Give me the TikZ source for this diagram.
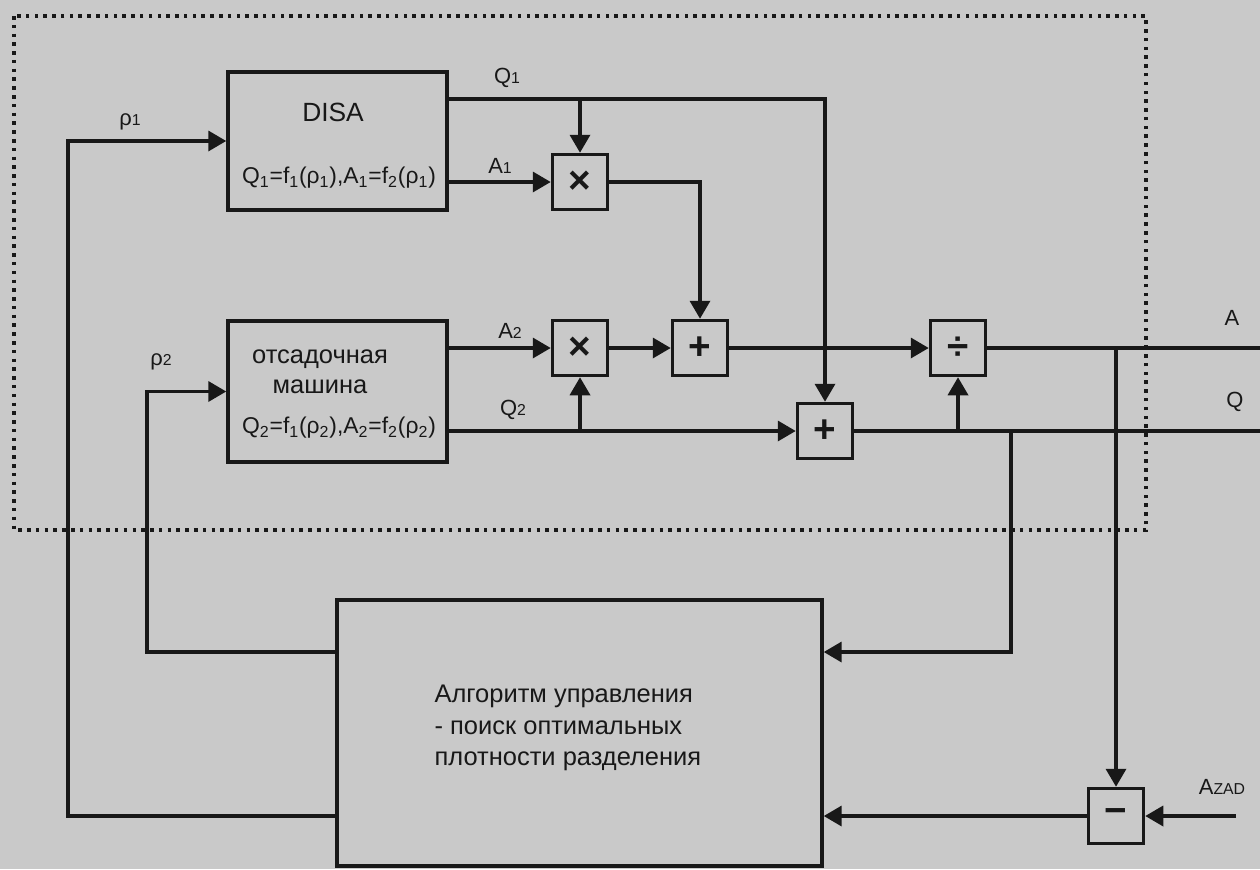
\documentclass[tikz,border=0pt]{standalone}
\usepackage{fontspec}
\setmainfont{Liberation Sans}
\usepackage{tikz}
\usetikzlibrary{arrows.meta, positioning}
\definecolor{paper}{RGB}{201,201,201}
\definecolor{ink}{RGB}{24,24,24}
\newcommand{\lo}[1]{{\fontsize{9pt}{9pt}\selectfont #1}}

\begin{document}
\begin{tikzpicture}[x=0.02cm, y=-0.02cm, line width=2pt, color=ink,
    font=\fontsize{12.5pt}{15pt}\selectfont,
    blk/.style={draw, rectangle, minimum width=4.38cm, minimum height=2.76cm, inner sep=0pt},
    op/.style={draw, rectangle, minimum size=1.1cm, inner sep=0pt,
      font=\fontsize{22pt}{22pt}\selectfont\bfseries},
    sig/.style={-{Triangle[length=0.36cm, width=0.4cm]}},
    frame/.style={line width=2pt, dash pattern=on 2pt off 3pt}]
  \fill[paper] (0,0) rectangle (1260,869);
  \useasboundingbox (0,0) rectangle (1260,869);
  % Plant blocks
  \node[blk] (disa) at (337.5,141) {};
  \node[font=\fontsize{15pt}{15pt}\selectfont] (disaT) at (333,112) {DISA};
  \node[font=\fontsize{13pt}{15pt}\selectfont] (disaF) at (339,178)
    {Q\textsubscript{1}=f\textsubscript{1}(ρ\textsubscript{1}),A\textsubscript{1}=f\textsubscript{2}(ρ\textsubscript{1})};
  \node[blk, minimum height=2.82cm] (mach) at (337.5,391.5) {};
  \node[align=center, font=\fontsize{14.5pt}{17pt}\selectfont] (machT) at (320,372)
    {отсадочная\\машина};
  \node[font=\fontsize{13pt}{15pt}\selectfont] (machF) at (339,428)
    {Q\textsubscript{2}=f\textsubscript{1}(ρ\textsubscript{2}),A\textsubscript{2}=f\textsubscript{2}(ρ\textsubscript{2})};
  % Control block
  \node[draw, minimum width=9.7cm, minimum height=5.32cm] (alg) at (579.5,733) {};
  \node[align=left, anchor=west, font=\fontsize{14.5pt}{18pt}\selectfont] (algT) at (427,728)
    {Алгоритм управления\\- поиск оптимальных\\плотности разделения};
  % Operators
  \node[op] (mul1) at (580,182) {×};
  \node[op] (mul2) at (580,348) {×};
  \node[op] (plus1) at (700,348) {+};
  \node[op] (plus2) at (825,431) {+};
  \node[op] (div) at (958,348) {÷};
  \node[op] (minus) at (1116,816) {−};
  % Signal labels
  \node (lrho1) at (130,122) {ρ\lo{1}};
  \node (lrho2) at (161,362) {ρ\lo{2}};
  \node (lq1) at (507,78) {Q\lo{1}};
  \node (la1) at (500,166) {A\lo{1}};
  \node (la2) at (510,331) {A\lo{2}};
  \node (lq2) at (513,410) {Q\lo{2}};
  \node (la) at (1232,318) {A};
  \node (lq) at (1235,402) {Q};
  \node (lazad) at (1222,787) {A\lo{ZAD}};
  % Free ends and bends
  \coordinate (rho1c) at (68,141);
  \coordinate (rho2c) at (147,391.5);
  \coordinate (qtap) at (1011,431);
  \coordinate (aout) at (1260,348);
  \coordinate (qout) at (1260,431);
  \coordinate (azad) at (1236,816);
  \coordinate (q1) at ([yshift=0.84cm]disa.east);
  \coordinate (q2) at (mach.east |- plus2);
  % DISA outputs
  \draw[sig] (q1) -| (plus2);
  \draw[sig] (mul1 |- q1) -- (mul1);
  \draw[sig] (disa.east |- mul1) -- (mul1);
  % Jig outputs
  \draw[sig] (mach.east |- mul2) -- (mul2);
  \draw[sig] (q2) -- (plus2);
  \draw[sig] (mul2 |- q2) -- (mul2);
  % Sums and ratio
  \draw[sig] (mul1) -| (plus1);
  \draw[sig] (mul2) -- (plus1);
  \draw[sig] (plus1) -- (div);
  \draw[sig] (div |- plus2) -- (div);
  \draw (div) -- (aout);
  \draw (plus2) -- (qout);
  % Feedback
  \draw[sig] (minus |- aout) -- (minus);
  \draw[sig] (azad) -- (minus);
  \draw[sig] (minus) -- (alg.east |- minus);
  \draw[sig] (qtap) |- ([yshift=1.62cm]alg.east);
  \draw[sig] (alg.west |- minus) -| (rho1c) -- (disa);
  \draw[sig] ([yshift=1.62cm]alg.west) -| (rho2c) -- (mach);
  % Plant boundary
  \draw[frame] (14,16) rectangle (1146,530);
\end{tikzpicture}
\end{document}
